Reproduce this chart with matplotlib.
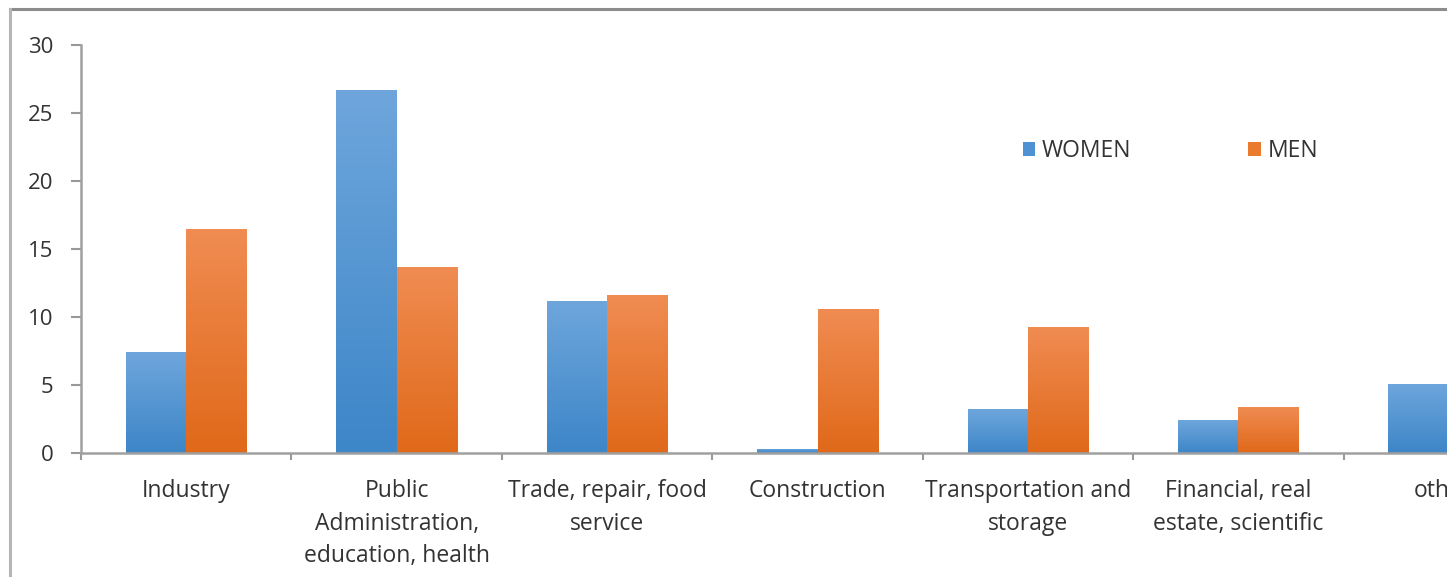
import numpy as np
import matplotlib
matplotlib.use('Agg')
import matplotlib.pyplot as plt
from matplotlib.colors import LinearSegmentedColormap
from matplotlib.lines import Line2D
from matplotlib.patches import Patch

plt.rcParams['font.family'] = ['Open Sans', 'DejaVu Sans']

# data
categories = ['Industry', 'Public\nAdministration,\neducation, health',
              'Trade, repair, food\nservice', 'Construction',
              'Transportation and\nstorage', 'Financial, real\nestate, scientific',
              'others']
women = [7.4, 26.7, 11.2, 0.3, 3.2, 2.4, 5.1]
men = [16.5, 13.7, 11.6, 10.6, 9.3, 3.4, 4.0]
yticks = [0, 5, 10, 15, 20, 25, 30]

# top/bottom colours of the gradient fills
blue = ('#6ea6dc', '#3d86c8')
orange = ('#f08c52', '#e0691a')


def gradient_bars(ax, bars, cols):
    cmap = LinearSegmentedColormap.from_list('g', [cols[1], cols[0]])
    grad = np.linspace(0, 1, 64).reshape(-1, 1)
    for b in bars:
        x0, y0 = b.get_x(), b.get_y()
        w, h = b.get_width(), b.get_height()
        if h <= 0:
            continue
        im = ax.imshow(grad, cmap=cmap, aspect='auto', origin='lower',
                       extent=[x0, x0 + w, y0, y0 + h], zorder=2,
                       interpolation='bilinear')
        im.set_clip_path(b)


W, H = 1447, 577
fig = plt.figure(figsize=(W / 100, H / 100), dpi=100)
ax = fig.add_axes([81 / W, 124 / H, 1473 / W, 408 / H])

x = np.arange(len(categories))
bw = 0.287
b1 = ax.bar(x - bw / 2, women, bw, color='none', zorder=2)
b2 = ax.bar(x + bw / 2, men, bw, color='none', zorder=2)
gradient_bars(ax, b1, blue)
gradient_bars(ax, b2, orange)

ax.set_xlim(-0.5, len(categories) - 0.5)
ax.set_ylim(0, 30)
ax.set_yticks(yticks)

ax.set_xticks(x)
ax.set_xticklabels(categories, fontsize=16.5, color='#333333', linespacing=1.46,
                   va='top')
ax.set_xticks(np.arange(len(categories) + 1) - 0.5, minor=True)
ax.tick_params(axis='x', which='major', length=0, pad=19)
ax.tick_params(axis='x', which='minor', length=5, width=1.5, color='#999999',
               direction='out')
ax.tick_params(axis='y', length=7, width=1.5, color='#999999', pad=13,
               labelsize=16, labelcolor='#333333')

for s in ['top', 'right']:
    ax.spines[s].set_visible(False)
for s in ['left', 'bottom']:
    ax.spines[s].set_color('#a0a0a0')
    ax.spines[s].set_linewidth(1.8)

handles = [Patch(facecolor='#4e92d4', label='WOMEN'),
           Patch(facecolor='#ea7a2e', label='MEN')]
ax.legend(handles=handles, loc='center left',
          bbox_to_anchor=(1002 / W, 1 - 151 / H),
          bbox_transform=fig.transFigure, ncol=2, frameon=False,
          fontsize=16.5, handlelength=0.55, handleheight=0.55, handletextpad=0.3,
          columnspacing=5.1, labelcolor='#333333')

# chart frame (only top and left edges show in the crop)
fig.add_artist(Line2D([10 / W, 1], [1 - 9 / H, 1 - 9 / H], color='#8c8c8c',
                      lw=2.2, transform=fig.transFigure))
fig.add_artist(Line2D([10 / W, 10 / W], [0, 1 - 9 / H], color='#b5b5b5',
                      lw=2.2, transform=fig.transFigure))

fig.savefig('out.png', dpi=100)
